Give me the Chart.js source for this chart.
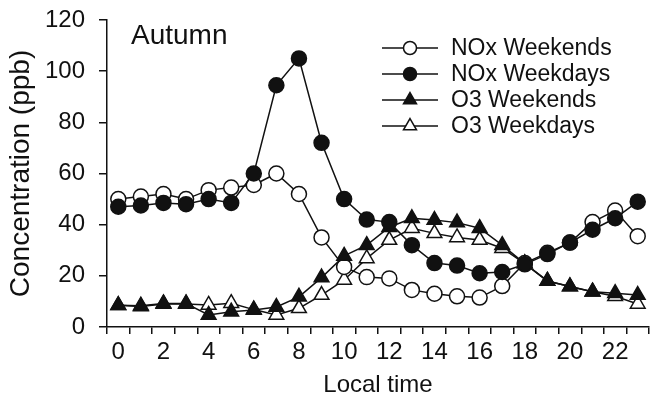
<!DOCTYPE html>
<html>
<head>
<meta charset="utf-8">
<script src="https://cdn.jsdelivr.net/npm/chart.js@4/dist/chart.umd.min.js"></script>
<style>
  html, body { margin: 0; padding: 0; background: #fff; }
  #wrap { width: 659px; height: 402px; }
</style>
</head>
<body>
<div id="wrap"><canvas id="c" width="659" height="402"></canvas></div>
<script>
// ---- data ----
const hours = ['0','1','2','3','4','5','6','7','8','9','10','11','12','13','14','15','16','17','18','19','20','21','22','23'];
const shownHourTicks = ['0','2','4','6','8','10','12','14','16','18','20','22'];
const yTicks = [0, 20, 40, 60, 80, 100, 120];
const seriesNames = ['NOx Weekends', 'NOx Weekdays', 'O3 Weekends', 'O3 Weekdays'];
const noxWeekends = [50, 51, 52, 50, 53.5, 54.5, 55.5, 60, 52, 35, 23.5, 19.5, 19, 14.5, 13, 12, 11.5, 16, 25, 29, 33, 41, 45.5, 35.5];
const noxWeekdays = [47, 47.5, 48.5, 48, 50, 48.5, 60, 94.5, 105, 72, 50, 42, 41, 32, 25, 24, 21, 21.5, 24.5, 28.5, 33, 38, 42.5, 49];
const o3Weekends  = [8.5, 8.3, 9.2, 9.2, 4.7, 6, 6.6, 7.8, 11.8, 19.3, 27.8, 32, 39, 42.5, 41.8, 40.8, 38.6, 32, 24.8, 18, 15.8, 13.8, 13.2, 12.5];
const o3Weekdays  = [8.5, 8, 9, 9, 8.6, 9.3, 6.8, 4.7, 7.3, 12.5, 18.4, 26.8, 34, 38.6, 36.6, 35, 34, 30.8, 24.8, 18, 15.8, 13.8, 12, 9];
const panelLabel = 'Autumn';
const xTitle = 'Local time';
const yTitle = 'Concentration (ppb)';

// ---- styling ----
const INK = '#111';
const FONT = "'Liberation Sans', Arial, sans-serif";

function ds(label, data, style, filled, radius, order) {
  return {
    label, data,
    borderColor: INK, borderWidth: 1.5,
    pointStyle: style, pointRadius: radius, pointHoverRadius: radius,
    pointBorderColor: INK, pointBorderWidth: 1.5,
    pointBackgroundColor: filled ? INK : '#fff',
    backgroundColor: filled ? INK : '#fff',
    fill: false, tension: 0, order,
    _legendRadius: style === 'circle' ? 6.5 : 7.5
  };
}

const legendPlugin = {
  id: 'customLegend',
  afterDraw(chart) {
    const ctx = chart.ctx;
    ctx.save();
    // panel label
    ctx.fillStyle = INK;
    ctx.font = '28px ' + FONT;
    ctx.textAlign = 'left';
    ctx.textBaseline = 'alphabetic';
    ctx.fillText(panelLabel, 131, 44);
    // legend
    const rows = [48, 74, 100, 126];
    chart.data.datasets.forEach((d, i) => {
      const y = rows[i];
      ctx.strokeStyle = INK;
      ctx.lineWidth = 1.5;
      ctx.beginPath();
      ctx.moveTo(382, y); ctx.lineTo(438, y);
      ctx.stroke();
      const r = d._legendRadius;
      const x = 410;
      ctx.fillStyle = d.pointBackgroundColor;
      ctx.beginPath();
      if (d.pointStyle === 'circle') {
        ctx.arc(x, y, r, 0, Math.PI * 2);
      } else {
        let rad = 0;
        ctx.moveTo(x + Math.sin(rad) * r, y - Math.cos(rad) * r);
        rad += 2 * Math.PI / 3;
        ctx.lineTo(x + Math.sin(rad) * r, y - Math.cos(rad) * r);
        rad += 2 * Math.PI / 3;
        ctx.lineTo(x + Math.sin(rad) * r, y - Math.cos(rad) * r);
        ctx.closePath();
      }
      ctx.fill();
      ctx.stroke();
      ctx.fillStyle = INK;
      ctx.font = '23px ' + FONT;
      ctx.textBaseline = 'middle';
      ctx.fillText(d.label, 451, y + 1);
    });
    ctx.restore();
  }
};

new Chart(document.getElementById('c'), {
  type: 'line',
  data: {
    labels: hours,
    datasets: [
      ds(seriesNames[0], noxWeekends, 'circle', false, 7.5, 2),
      ds(seriesNames[1], noxWeekdays, 'circle', true, 7.5, 1),
      ds(seriesNames[2], o3Weekends, 'triangle', true, 8.5, 1),
      ds(seriesNames[3], o3Weekdays, 'triangle', false, 8.5, 2)
    ]
  },
  options: {
    responsive: false,
    animation: false,
    devicePixelRatio: 1,
    layout: { padding: { top: 20, right: 0, left: 0, bottom: 0 } },
    plugins: { legend: { display: false }, tooltip: { enabled: false } },
    scales: {
      x: {
        type: 'category',
        offset: true,
        afterFit(scale) { scale.height = 75; scale.paddingLeft = 0; scale.paddingRight = 0; },
        grid: { display: true, offset: true, drawOnChartArea: false, drawTicks: true, tickLength: 7, color: INK, tickColor: INK, lineWidth: 1.5, tickWidth: 1.5 },
        border: { display: true, color: INK, width: 1.5 },
        ticks: {
          autoSkip: false, maxRotation: 0, minRotation: 0, padding: 4, color: INK,
          font: { family: FONT, size: 24 },
          callback(v) { const l = this.getLabelForValue(v); return shownHourTicks.includes(l) ? l : ''; }
        },
        title: { display: true, text: xTitle, color: INK, font: { family: FONT, size: 24 }, padding: { top: 0, bottom: 2 } }
      },
      y: {
        min: 0, max: 120,
        afterFit(scale) { scale.width = 107; scale.paddingTop = 0; scale.paddingBottom = 0; },
        afterBuildTicks(scale) { scale.ticks = yTicks.map(v => ({ value: v })); },
        grid: { display: true, drawOnChartArea: false, drawTicks: true, tickLength: 8, color: INK, tickColor: INK, lineWidth: 1.5, tickWidth: 1.5 },
        border: { display: true, color: INK, width: 1.5 },
        ticks: { padding: 14, color: INK, font: { family: FONT, size: 24 } },
        title: { display: true, text: yTitle, color: INK, font: { family: FONT, size: 28 }, padding: { top: 4, bottom: 0 } }
      }
    }
  },
  plugins: [legendPlugin]
});
</script>
</body>
</html>
